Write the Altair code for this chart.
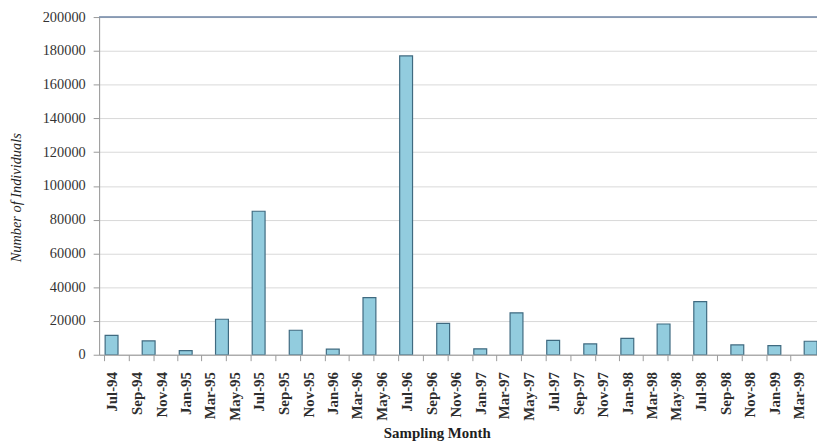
import altair as alt
import pandas as pd

# Sampling dates (quarterly) and counts
sample_dates = [
    "1994-07-01", "1994-10-01", "1995-01-01", "1995-04-01", "1995-07-01",
    "1995-10-01", "1996-01-01", "1996-04-01", "1996-07-01", "1996-10-01",
    "1997-01-01", "1997-04-01", "1997-07-01", "1997-10-01", "1998-01-01",
    "1998-04-01", "1998-07-01", "1998-10-01", "1999-01-01", "1999-04-01",
]
individuals = [
    11500, 8200, 2400, 21000, 85000,
    14500, 3300, 33800, 177000, 18600,
    3500, 24800, 8500, 6400, 9700,
    18200, 31400, 5800, 5400, 8000,
]

# Axis tick labels (every two months)
tick_labels = [
    "Jul-94", "Sep-94", "Nov-94", "Jan-95", "Mar-95", "May-95", "Jul-95",
    "Sep-95", "Nov-95", "Jan-96", "Mar-96", "May-96", "Jul-96", "Sep-96",
    "Nov-96", "Jan-97", "Mar-97", "May-97", "Jul-97", "Sep-97", "Nov-97",
    "Jan-98", "Mar-98", "May-98", "Jul-98", "Sep-98", "Nov-98", "Jan-99",
    "Mar-99",
]
y_ticks = [0, 20000, 40000, 60000, 80000, 100000, 120000, 140000, 160000, 180000, 200000]
y_max = 200000

df = pd.DataFrame({
    "date": [d + "T00:00:00" for d in sample_dates],
    "count": individuals,
})

tick_dates = [pd.to_datetime(t, format="%b-%y") for t in tick_labels]
tick_values = [alt.DateTime(year=d.year, month=d.month, date=1) for d in tick_dates]

serif = "Liberation Serif"

x_scale = alt.Scale(domain=[alt.DateTime(year=1994, month=6, date=12, hours=8),
                            alt.DateTime(year=1999, month=4, date=4, hours=12)])
y_scale = alt.Scale(domain=[0, y_max], nice=False)

y_axis = alt.Axis(values=y_ticks, tickCount=len(y_ticks), format="d", labelFont=serif,
                  labelFontSize=14.5, labelColor="#333333",
                  labelPadding=8, tickSize=6, tickColor="#9A9A9A",
                  labelOverlap=False, labelBound=False, labelFlush=False,
                  domainColor="#9A9A9A", gridColor="#D9D9D9",
                  title="Number of Individuals", titleFont=serif,
                  titleFontSize=14.5, titleFontStyle="italic",
                  titleFontWeight="normal", titleColor="#222222",
                  titleX=-83, titleY=182, titleAnchor="start",
                  titleAlign="center", titleBaseline="middle", titleAngle=270)

bars = alt.Chart(df).mark_bar(
    size=13, fill="#92CCDE", stroke="#3F6A80", strokeWidth=1.2, clip=True
).encode(
    x=alt.X("date:T", scale=x_scale,
            axis=alt.Axis(values=tick_values, format="%b-%y", labelAngle=270,
                          labelFont=serif, labelFontSize=15, labelFontWeight="bold",
                          labelColor="#2E2E2E",
                          labelPadding=11, tickOffset=-8, labelOffset=8,
                          tickSize=6, tickColor="#9A9A9A", domainColor="#9A9A9A",
                          grid=False, labelOverlap=False,
                          title="Sampling Month", titleFont=serif, titleFontSize=15,
                          titleFontWeight="bold", titleColor="#1E1E1E",
                          titleX=341, titleY=79, titleAlign="center",
                          titleBaseline="middle", titleAnchor="start")),
    y=alt.Y("count:Q", scale=y_scale, axis=y_axis),
)

top_line = alt.Chart(pd.DataFrame({"count": [y_max]})).mark_rule(
    color="#6E85A4", strokeWidth=1.6
).encode(y=alt.Y("count:Q", scale=y_scale, axis=y_axis))

chart = alt.layer(bars, top_line).properties(
    width=725, height=341,
    autosize=alt.AutoSizeParams(type="none"),
    padding={"left": 92, "top": 7, "right": 0, "bottom": 88},
).configure_view(stroke=None).configure(background="white")

chart.save("out.html", embed_options={"renderer": "svg", "actions": False})
